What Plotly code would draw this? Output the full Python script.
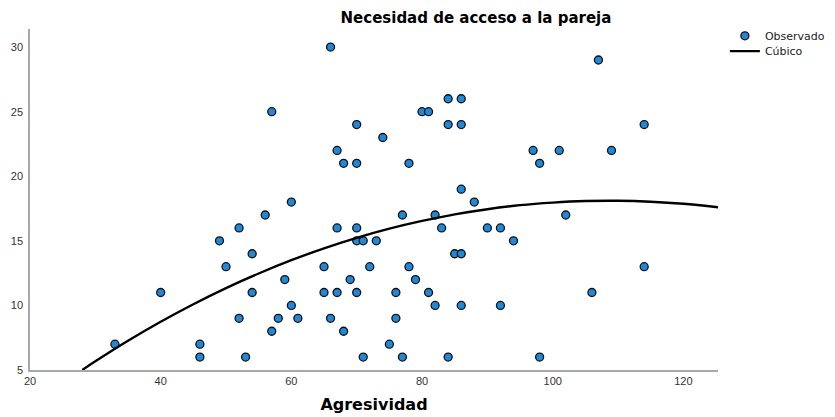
import plotly.graph_objects as go

# -----------------------------
# DATA
# -----------------------------
agresividad = [
    33, 40, 46, 46, 49, 50, 52, 52, 53, 54, 54, 56, 57, 57, 58, 59, 60, 60, 61,
    65, 65, 66, 66, 67, 67, 67, 68, 68, 69, 70, 70, 70, 70, 70, 71, 71, 72, 73,
    74, 75, 76, 76, 77, 77, 78, 78, 79, 80, 81, 81, 82, 82, 83, 84, 84, 84, 85,
    86, 86, 86, 86, 86, 88, 90, 92, 92, 94, 97, 98, 98, 101, 102, 106, 107,
    109, 114, 114,
]
necesidad = [
    7, 11, 7, 6, 15, 13, 16, 9, 6, 14, 11, 17, 8, 25, 9, 12, 18, 10, 9,
    13, 11, 30, 9, 22, 16, 11, 21, 8, 12, 24, 21, 16, 15, 11, 15, 6, 13, 15,
    23, 7, 11, 9, 17, 6, 21, 13, 12, 25, 25, 11, 17, 10, 16, 26, 24, 6, 14,
    26, 24, 19, 14, 10, 18, 16, 16, 10, 15, 22, 21, 6, 22, 17, 11, 29,
    22, 24, 13,
]

# cubic fit line
cubico_x = [28, 30, 35, 40, 45, 50, 55, 60, 65, 70, 75, 80, 85, 90, 95, 100,
            105, 110, 115, 120, 125.3]
cubico_y = [5.0, 5.67, 7.26, 8.73, 10.09, 11.34, 12.47, 13.5, 14.42, 15.23,
            15.94, 16.54, 17.05, 17.45, 17.76, 17.96, 18.08, 18.1, 18.03,
            17.87, 17.6]

FONT = "Liberation Sans, Arial, sans-serif"
WIDE = "DejaVu Sans, Verdana, sans-serif"

fig = go.Figure()

fig.add_trace(go.Scatter(
    x=agresividad,
    y=necesidad,
    mode="markers",
    name="Observado",
    legend="legend",
    showlegend=True,
    marker=dict(size=8, color="#1f88d8", line=dict(width=1.3, color="#111111")),
))

fig.add_trace(go.Scatter(
    x=cubico_x,
    y=cubico_y,
    mode="lines",
    name="Cúbico",
    legend="legend2",
    showlegend=True,
    line=dict(width=2.4, color="black", shape="spline"),
))

legend_style = dict(
    xanchor="left", yanchor="middle",
    font=dict(family=WIDE, size=11, color="#222222"),
    itemwidth=30, bgcolor="rgba(0,0,0,0)",
    visible=True,
)

# page body adds an 8px offset; extra room on the right keeps the
# legends from pushing the margin
fig.update_layout(
    width=845,
    height=409,
    margin=dict(l=22, r=135, t=21, b=47),
    showlegend=True,
    paper_bgcolor="white",
    plot_bgcolor="white",
    font=dict(family=FONT, size=11, color="#333333"),
    title=dict(
        text="<b>Necesidad de acceso a la pareja</b>",
        font=dict(family=WIDE, size=15, color="black"),
        x=0.5538, xanchor="center", y=0.976, yanchor="middle",
    ),
    xaxis=dict(
        range=[20, 125.3],
        tickvals=[20, 40, 60, 80, 100, 120],
        showgrid=False, zeroline=False,
        showline=True, linecolor="#a8a8a8", linewidth=1.5,
        ticks="", ticklabelstandoff=0, automargin=False,
        title=dict(text="<b>Agresividad</b>", font=dict(family=WIDE, size=16, color="black"),
                   standoff=13),
    ),
    yaxis=dict(
        range=[5, 31.4],
        tickvals=[5, 10, 15, 20, 25, 30],
        showgrid=False, zeroline=False,
        showline=True, linecolor="#a8a8a8", linewidth=1.5,
        ticks="", ticklabelstandoff=3, automargin=False,
    ),
    legend=dict(x=1.01, y=0.98, **legend_style),
    legend2=dict(x=1.01, y=0.935, **legend_style),
)

fig.write_html("out.html")
